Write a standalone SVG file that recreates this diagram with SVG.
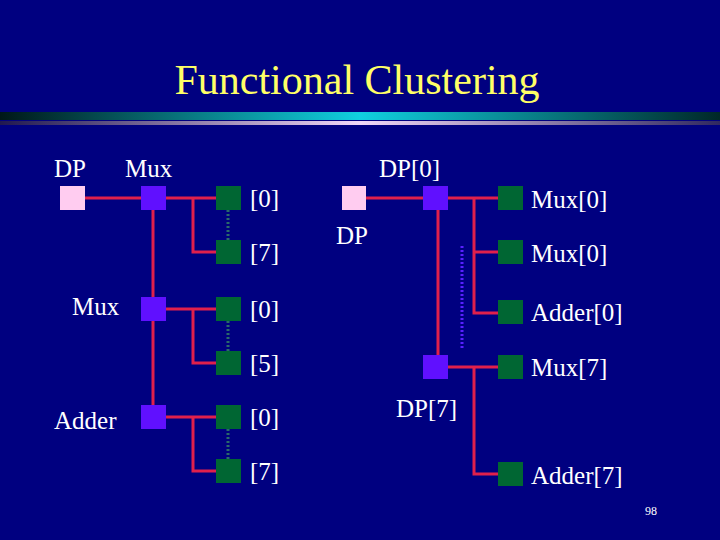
<svg xmlns="http://www.w3.org/2000/svg" width="720" height="540" viewBox="0 0 720 540">
<defs>
<linearGradient id="gc" x1="0" x2="1"><stop offset="0" stop-color="#001818"/><stop offset="0.5" stop-color="#10d0e0"/><stop offset="1" stop-color="#002828"/></linearGradient>
<linearGradient id="gp" x1="0" x2="1"><stop offset="0" stop-color="#201850"/><stop offset="0.5" stop-color="#f0d8f8"/><stop offset="1" stop-color="#302860"/></linearGradient>
<style>
text{font-family:"Liberation Serif","DejaVu Serif",serif}
.t{fill:#fff;font-size:25px}
.w{stroke:#e0204c;stroke-width:3;fill:none}
.d{stroke:#2a6a6a;stroke-width:3;stroke-dasharray:2 2}
.dp{stroke:#5a20ff;stroke-width:3;stroke-dasharray:2 2}
.pk{fill:#ffccf0}.pu{fill:#6010ff}.gr{fill:#006633}
</style>
</defs>
<rect width="720" height="540" fill="#000080"/>
<text x="357" y="94" text-anchor="middle" font-size="42" fill="#ffff66">Functional Clustering</text>
<rect x="0" y="112" width="720" height="8" fill="url(#gc)"/>
<rect x="0" y="121" width="720" height="4" fill="url(#gp)"/>
<g id="connectors">
<path class="w" d="M85 198H216M153 210V405M193 198V252H216M166 309H216M193 309V363H216M166 417H216M193 417V471H216"/>
<path class="d" d="M228 210V240M228 321V351M228 429V459"/>
<path class="w" d="M366 198H498M438 210V355M474 198V313H498M474 252H498M447 367H498M474 367V474H498"/>
<path class="dp" d="M462 246V349"/>
</g>
<g id="left">
<rect class="pk" x="60" y="186" width="25" height="24"/>
<rect class="pu" x="141" y="186" width="25" height="24"/>
<rect class="pu" x="141" y="297" width="25" height="24"/>
<rect class="pu" x="141" y="405" width="25" height="24"/>
<rect class="gr" x="216" y="186" width="25" height="24"/>
<rect class="gr" x="216" y="240" width="25" height="24"/>
<rect class="gr" x="216" y="297" width="25" height="24"/>
<rect class="gr" x="216" y="351" width="25" height="24"/>
<rect class="gr" x="216" y="405" width="25" height="24"/>
<rect class="gr" x="216" y="459" width="25" height="24"/>
<text class="t" x="54" y="177">DP</text>
<text class="t" x="125" y="177">Mux</text>
<text class="t" x="72" y="315">Mux</text>
<text class="t" x="54" y="429">Adder</text>
<text class="t" x="250" y="207">[0]</text>
<text class="t" x="250" y="261">[7]</text>
<text class="t" x="250" y="318">[0]</text>
<text class="t" x="250" y="372">[5]</text>
<text class="t" x="250" y="426">[0]</text>
<text class="t" x="250" y="480">[7]</text>
</g>
<g id="right">
<rect class="pk" x="342" y="186" width="24" height="24"/>
<rect class="pu" x="423" y="186" width="25" height="24"/>
<rect class="pu" x="423" y="355" width="25" height="24"/>
<rect class="gr" x="498" y="186" width="25" height="24"/>
<rect class="gr" x="498" y="240" width="25" height="24"/>
<rect class="gr" x="498" y="300" width="25" height="24"/>
<rect class="gr" x="498" y="355" width="25" height="24"/>
<rect class="gr" x="498" y="462" width="25" height="24"/>
<text class="t" x="379" y="177">DP[0]</text>
<text class="t" x="336" y="244">DP</text>
<text class="t" x="396" y="417">DP[7]</text>
<text class="t" x="531" y="208">Mux[0]</text>
<text class="t" x="531" y="262">Mux[0]</text>
<text class="t" x="531" y="321">Adder[0]</text>
<text class="t" x="531" y="376">Mux[7]</text>
<text class="t" x="531" y="484">Adder[7]</text>
</g>
<text x="645" y="515" font-size="12" fill="#fff">98</text>
</svg>
